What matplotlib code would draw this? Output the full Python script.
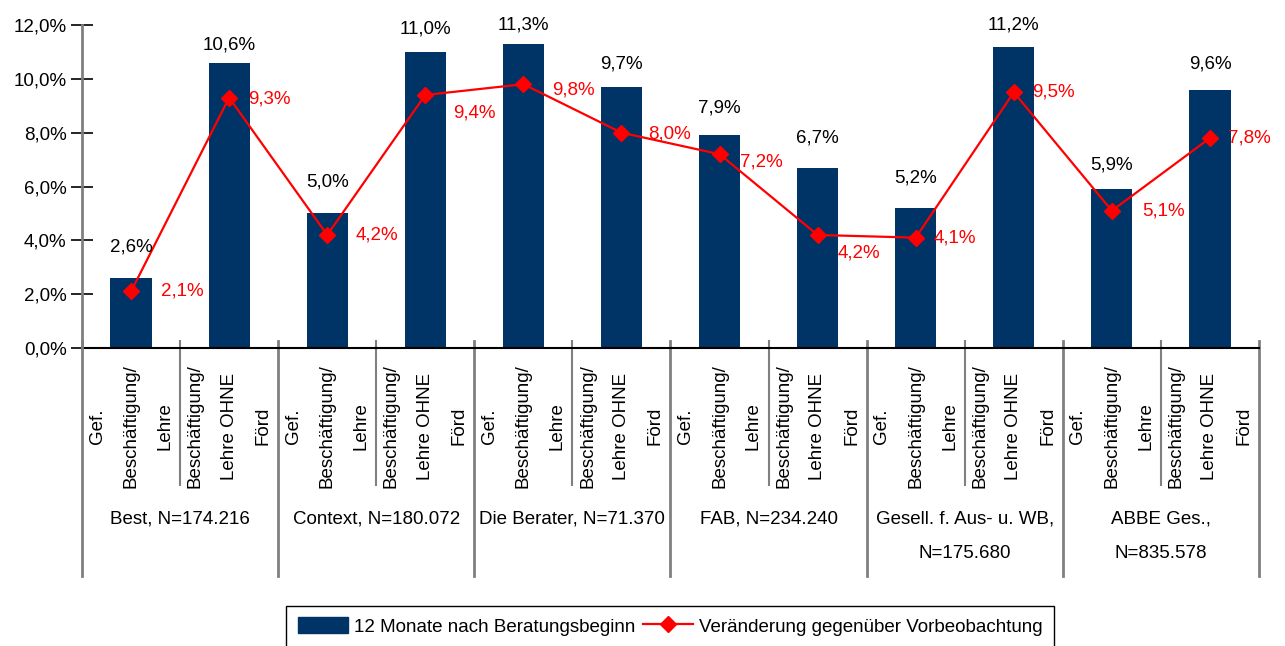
import matplotlib
matplotlib.use("Agg")
import matplotlib.pyplot as plt
from matplotlib.lines import Line2D
from matplotlib.patches import Patch
import matplotlib.transforms as mtransforms

plt.rcParams['font.family'] = ['Liberation Sans', 'DejaVu Sans']
FS = 13.5

# ---- data ----
groups = ["Best, N=174.216", "Context, N=180.072", "Die Berater, N=71.370",
          "FAB, N=234.240", "Gesell. f. Aus- u. WB,\nN=175.680", "ABBE Ges.,\nN=835.578"]
sub_labels = ["Gef.\nBeschäftigung/\nLehre", "Beschäftigung/\nLehre OHNE\nFörd"]
bar_values = [2.6, 10.6, 5.0, 11.0, 11.3, 9.7, 7.9, 6.7, 5.2, 11.2, 5.9, 9.6]
line_values = [2.1, 9.3, 4.2, 9.4, 9.8, 8.0, 7.2, 4.2, 4.1, 9.5, 5.1, 7.8]
y_ticks = [0, 2, 4, 6, 8, 10, 12]
bar_name = "12 Monate nach Beratungsbeginn"
line_name = "Veränderung gegenüber Vorbeobachtung"

# label placement (pixels)
bar_label_dy = [31, 18, 31, 23, 19, 23, 27, 30, 30, 22, 24, 26]
line_label_dx = [30, 19, 28, 28, 29, 27, 20, 20, 18, 18, 30, 18]
line_label_dy = [0, 1, 0, 18, 6, 1, 8, 18, 0, 0, 0, 0]

NAVY = "#003366"
RED = "#FF0000"
GRAY = "#808080"

def fmt(v):
    return f"{v:.1f}".replace(".", ",") + "%"

W, H = 1285, 646
fig = plt.figure(figsize=(W / 100, H / 100), dpi=100)
ax = fig.add_axes([82 / W, 1 - 348 / H, (1259 - 82) / W, 323 / H])

x = list(range(len(bar_values)))
ax.bar(x, bar_values, width=0.42, color=NAVY, zorder=2)
ax.plot(x, line_values, color=RED, lw=1.6, marker="D", markersize=8.5,
        markeredgecolor=RED, markerfacecolor=RED, zorder=3)

for xi, v, dy in zip(x, bar_values, bar_label_dy):
    ax.annotate(fmt(v), (xi, v), xytext=(0, dy), textcoords="offset pixels",
                ha="center", va="center", fontsize=FS, color="black")
for xi, v, dx, dy in zip(x, line_values, line_label_dx, line_label_dy):
    ax.annotate(fmt(v), (xi, v), xytext=(dx, -dy), textcoords="offset pixels",
                ha="left", va="center", fontsize=FS, color=RED)

ax.set_xlim(-0.5, len(bar_values) - 0.5)
ax.set_ylim(0, 12)
ax.set_yticks(y_ticks)
ax.set_yticklabels([fmt(t) for t in y_ticks], fontsize=FS)
ax.tick_params(axis="y", direction="inout", length=16, width=1.2, color="black", pad=3)
ax.set_xticks([])
for s in ["top", "right"]:
    ax.spines[s].set_visible(False)
ax.spines["left"].set_visible(False)
ax.spines["bottom"].set_color("black")
ax.spines["bottom"].set_linewidth(1.5)

trans = mtransforms.blended_transform_factory(ax.transData, ax.transAxes)
# vertical axis line (gray)
ax.plot([-0.5, -0.5], [0, 1], transform=trans, color=GRAY, lw=2, clip_on=False, zorder=4)

# separators
for k in range(len(bar_values) + 1):
    xb = k - 0.5
    if k % 2 == 0:
        ax.plot([xb, xb], [7 / 323, -228 / 323], transform=trans, color=GRAY, lw=2, clip_on=False)
    else:
        ax.plot([xb, xb], [7 / 323, -137 / 323], transform=trans, color=GRAY, lw=1.5, clip_on=False)

# category labels
for i in range(len(bar_values)):
    ax.text(i, -78 / 323, sub_labels[i % 2], transform=trans, rotation=90,
            ha="center", va="center", multialignment="center",
            fontsize=FS, linespacing=2.3)

# group labels
for g, name in enumerate(groups):
    ax.text(2 * g + 0.5, -163 / 323, name, transform=trans, ha="center", va="top",
            multialignment="center", fontsize=FS, linespacing=2.3)

handles = [Patch(facecolor=NAVY, edgecolor=NAVY),
           Line2D([0], [0], color=RED, lw=1.6, marker="D", markersize=8.5)]
leg = fig.legend(handles, [bar_name, line_name], loc="upper center",
                 bbox_to_anchor=(670 / W, 1 - 606 / H), ncol=2, fontsize=FS,
                 frameon=True, fancybox=False, edgecolor="black", framealpha=1,
                 handlelength=2.7, handleheight=0.9, columnspacing=0.4,
                 handletextpad=0.3, borderpad=0.6, borderaxespad=0)
leg.get_frame().set_linewidth(1.0)

fig.savefig("out.png", dpi=100)
